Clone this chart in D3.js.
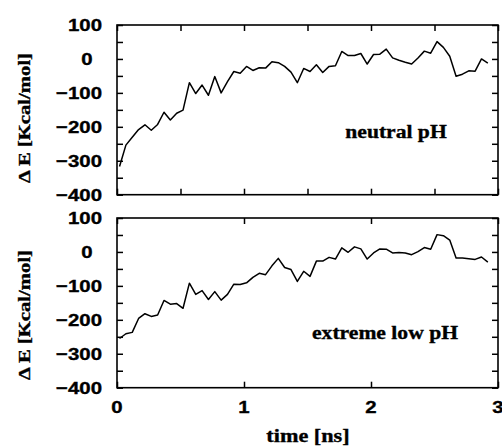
<!DOCTYPE html>
<html>
<head>
<meta charset="utf-8">
<script src="https://cdn.jsdelivr.net/npm/d3@7"></script>
<style>
  body { margin: 0; background: #fff; }
  svg { display: block; }
</style>
</head>
<body>
<div id="chart"></div>
<script>
// time axis (ns), one sample every 0.05 ns
var timeNs = [0.02,0.07,0.12,0.17,0.22,0.27,0.32,0.37,0.42,0.47,
              0.52,0.57,0.62,0.67,0.72,0.77,0.82,0.87,0.92,0.97,
              1.02,1.07,1.12,1.17,1.22,1.27,1.32,1.37,1.42,1.47,
              1.52,1.57,1.62,1.67,1.72,1.77,1.82,1.87,1.92,1.97,
              2.02,2.07,2.12,2.17,2.22,2.27,2.32,2.37,2.42,2.47,
              2.52,2.57,2.62,2.67,2.72,2.77,2.82,2.87,2.92];

// delta E, neutral pH (kcal/mol)
var neutralE = [-317,-254,-231,-208,-194,-210,-193,-157,-180,-160,
                -151,-70,-102,-77,-107,-52,-100,-67,-37,-42,
                -22,-34,-26,-27,-8,-11,-22,-39,-70,-28,
                -37,-17,-40,-22,-20,22,10,10,16,-15,
                13,14,29,3,-4,-10,-15,3,23,17,
                51,34,8,-51,-45,-35,-36,0,-12];

// delta E, extreme low pH (kcal/mol)
var lowE = [-255,-241,-237,-196,-182,-190,-186,-143,-154,-152,
            -166,-92,-125,-114,-140,-117,-142,-125,-95,-96,
            -91,-75,-63,-67,-41,-19,-46,-52,-87,-57,
            -72,-27,-27,-16,-21,12,-1,15,9,-21,
            -3,9,8,-3,-2,-3,-8,1,13,8,
            51,48,35,-18,-18,-20,-22,-15,-30];

var panelNames = ["neutral pH", "extreme low pH"];
var yTicks = [-400,-350,-300,-250,-200,-150,-100,-50,0,50,100];
var yLabels = [-400,-300,-200,-100,0,100];
var xTicksTop = [0,0.5,1,1.5,2,2.5,3];
var xTicksBottom = [0,1,2,3];
var xLabels = [0,1,2,3];

var width = 502, height = 448;
var sans = "Liberation Sans";
var serif = "Liberation Serif";

var svg = d3.select("#chart").append("svg")
    .attr("width", width)
    .attr("height", height);

// the picture is a bit wider than it is tall, so stretch text sideways
function stretch(sel, k) {
  sel.each(function() {
    var w = this.getComputedTextLength();
    d3.select(this).attr("textLength", w * k).attr("lengthAdjust", "spacingAndGlyphs");
  });
}

// heavy black print look of the original
function ink(sel, fam, size) {
  sel.attr("font-family", fam)
     .attr("font-weight", "bold")
     .attr("font-size", size)
     .attr("fill", "#000")
     .attr("stroke", "#000")
     .attr("stroke-width", 0.35);
}

var x = d3.scaleLinear().domain([0, 3]).range([117, 498]);

var panels = [
  { data: neutralE, name: panelNames[0], top: 25, bottom: 194.7, xt: xTicksTop,
    labelX: 396, labelY: 138, titleY: 118 },
  { data: lowE, name: panelNames[1], top: 218, bottom: 387.7, xt: xTicksBottom,
    labelX: 385, labelY: 339, titleY: 315 }
];

panels.forEach(function(p) {
  var y = d3.scaleLinear().domain([-400, 100]).range([p.bottom, p.top]);
  var g = svg.append("g");

  // inward ticks on all four sides
  var axes = [
    { ax: d3.axisLeft(y).tickValues(yTicks), tr: "translate(117,0)" },
    { ax: d3.axisRight(y).tickValues(yTicks), tr: "translate(498,0)" },
    { ax: d3.axisTop(x).tickValues(p.xt), tr: "translate(0," + p.top + ")" },
    { ax: d3.axisBottom(x).tickValues(p.xt), tr: "translate(0," + p.bottom + ")" }
  ];
  axes.forEach(function(a) {
    var ag = g.append("g")
        .attr("transform", a.tr)
        .call(a.ax.tickSize(-6).tickSizeOuter(0).tickFormat(""));
    ag.select(".domain").remove();
    ag.selectAll("line").attr("stroke", "#000").attr("stroke-width", 1.5);
  });

  // frame
  g.append("rect")
      .attr("x", x(0))
      .attr("y", p.top)
      .attr("width", x(3) - x(0))
      .attr("height", p.bottom - p.top)
      .attr("fill", "none")
      .attr("stroke", "#000")
      .attr("stroke-width", 1.6);

  // y tick labels
  var fmt = d3.format("d");
  var yl = g.selectAll(".ylab").data(yLabels).enter().append("text")
      .attr("class", "ylab")
      .attr("x", function(d) { return d === 0 ? 87 : 102; })
      .attr("y", function(d) { return y(d) + 6; })
      .attr("text-anchor", function(d) { return d === 0 ? "middle" : "end"; })
      .text(function(d) { return fmt(d); });
  ink(yl, sans, 17);
  stretch(yl, 1.2);

  // the data line
  var line = d3.line()
      .x(function(d, i) { return x(timeNs[i]); })
      .y(function(d) { return y(d); });
  g.append("path")
      .datum(p.data)
      .attr("d", line)
      .attr("fill", "none")
      .attr("stroke", "#000")
      .attr("stroke-width", 1.5)
      .attr("stroke-linejoin", "round");

  // panel label
  var lab = g.append("text")
      .attr("x", p.labelX)
      .attr("y", p.labelY)
      .attr("text-anchor", "middle")
      .text(p.name);
  ink(lab, serif, 18);
  stretch(lab, 1.2);

  // y axis title
  var yt = g.append("text")
      .attr("transform", "translate(30," + p.titleY + ") rotate(-90)")
      .attr("text-anchor", "middle")
      .text("\u0394 E [Kcal/mol]");
  ink(yt, serif, 16);
  yt.attr("textLength", 130).attr("lengthAdjust", "spacingAndGlyphs");
});

// x tick labels under the lower panel
var xl = svg.selectAll(".xlab").data(xLabels).enter().append("text")
    .attr("class", "xlab")
    .attr("x", function(d) { return x(d); })
    .attr("y", 413)
    .attr("text-anchor", "middle")
    .text(function(d) { return d; });
ink(xl, sans, 17);
stretch(xl, 1.2);

// x axis title
var xt = svg.append("text")
    .attr("x", 308)
    .attr("y", 442)
    .attr("text-anchor", "middle")
    .text("time [ns]");
ink(xt, serif, 18.5);
stretch(xt, 1.2);
</script>
</body>
</html>
